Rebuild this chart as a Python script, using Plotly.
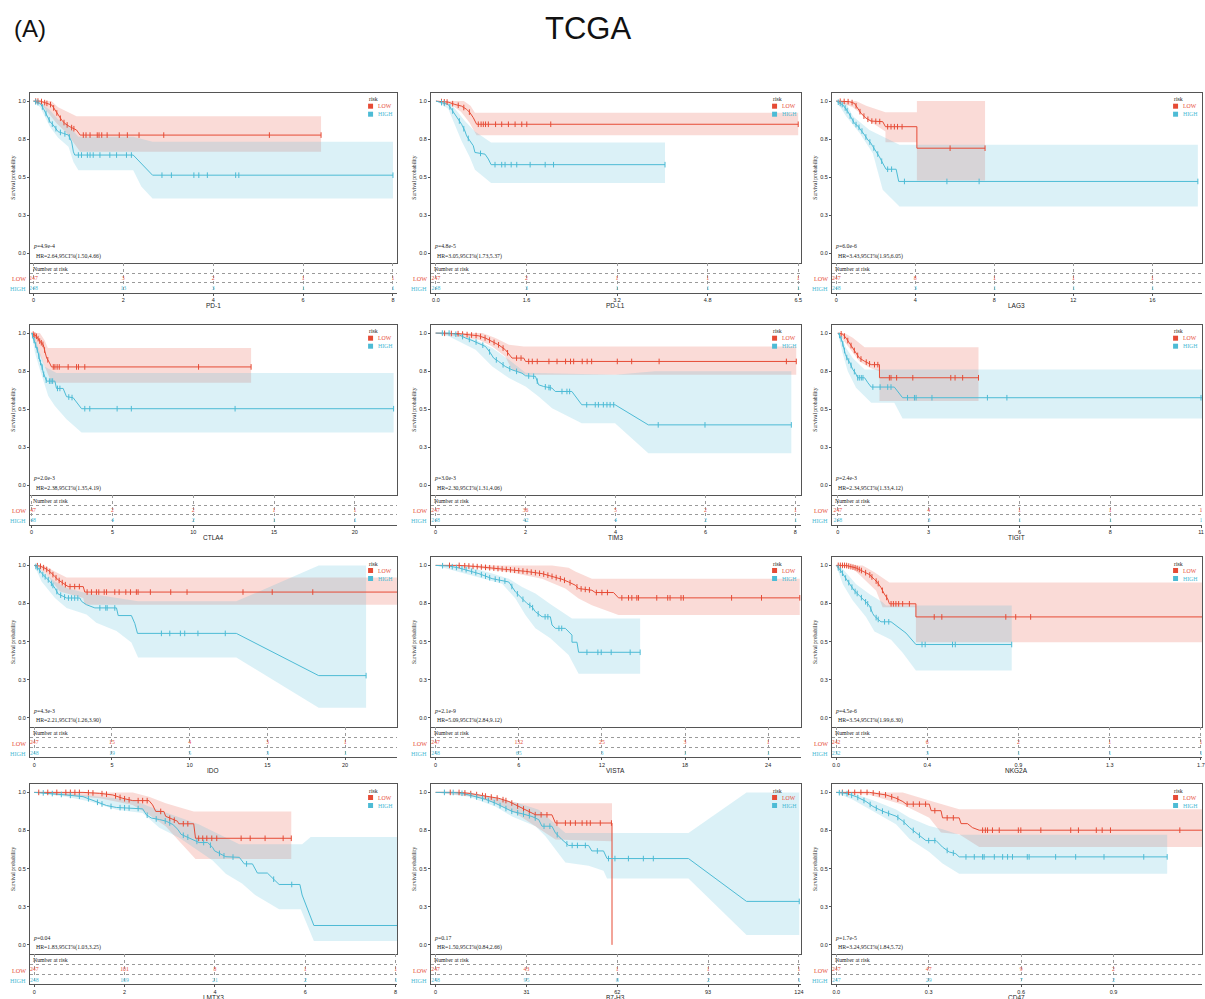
import numpy as np
import plotly.graph_objects as go

W, H = 1205, 999
RED = "#E64B35"
BLUE = "#4DBBD5"
RED_FILL = "rgba(230,75,53,0.2)"
BLUE_FILL = "rgba(77,187,213,0.2)"
SERIF = "Liberation Serif, Times New Roman, serif"
SANS = "Liberation Sans, Arial, sans-serif"
AXIS = "#555555"
GRID = "#9a9a9a"

Y_TICKS = [0, 0.25, 0.5, 0.75, 1.0]
Y_TICKTEXT = ["0.0", "0.3", "0.5", "0.8", "1.0"]

NAMES = ["PD-1", "PD-L1", "LAG3", "CTLA4", "TIM3", "TIGIT",
         "IDO", "VISTA", "NKG2A", "LMTX3", "B7-H3", "CD47"]
P_TEXT = ["4.9e-4", "4.8e-5", "6.0e-6", "2.0e-3", "3.0e-3", "2.4e-3",
          "4.3e-3", "2.1e-9", "4.5e-6", "0.04", "0.17", "1.7e-5"]
HR_TEXT = ["2.64,95CI%(1.50,4.66)", "3.05,95CI%(1.73,5.37)", "3.43,95CI%(1.95,6.05)",
           "2.38,95CI%(1.35,4.19)", "2.30,95CI%(1.31,4.06)", "2.34,95CI%(1.33,4.12)",
           "2.21,95CI%(1.26,3.90)", "5.09,95CI%(2.84,9.12)", "3.54,95CI%(1.99,6.30)",
           "1.83,95CI%(1.03,3.25)", "1.50,95CI%(0.84,2.66)", "3.24,95CI%(1.84,5.72)"]

TICKS = [
    [0, 2, 4, 6, 8],
    [0, 1.625, 3.25, 4.875, 6.5],
    [0, 4, 8, 12, 16],
    [0, 5, 10, 15, 20],
    [0, 2, 4, 6, 8],
    [0, 2.75, 5.5, 8.25, 11],
    [0, 5, 10, 15, 20],
    [0, 6, 12, 18, 24],
    [0, 0.433, 0.866, 1.3, 1.733],
    [0, 2, 4, 6, 8],
    [0, 31, 62, 93, 124],
    [0, 0.3, 0.6, 0.9, 1.2],
]
TICKTEXT = [
    ["0", "2", "4", "6", "8"],
    ["0.0", "1.6", "3.2", "4.8", "6.5"],
    ["0", "4", "8", "12", "16"],
    ["0", "5", "10", "15", "20"],
    ["0", "2", "4", "6", "8"],
    ["0", "3", "6", "8", "11"],
    ["0", "5", "10", "15", "20"],
    ["0", "6", "12", "18", "24"],
    ["0.0", "0.4", "0.9", "1.3", "1.7"],
    ["0", "2", "4", "6", "8"],
    ["0", "31", "62", "93", "124"],
    ["0.0", "0.3", "0.6", "0.9", "1.2"],
]
XRANGES = [
    [-0.078, 8.09], [-0.09, 6.55], [-0.22, 18.51],
    [-0.105, 22.61], [-0.104, 8.125], [-0.18, 11.03],
    [-0.28, 23.34], [-0.34, 26.37], [-0.02, 1.738],
    [-0.095, 8.03], [-1.6, 124.7], [-0.014, 1.187],
]
RISK_LOW = [
    [247, 3, 2, 1, 1], [247, 2, 1, 1, 1], [247, 8, 1, 1, 1],
    [247, 2, 2, 1, 1], [247, 36, 5, 2, 1], [247, 4, 1, 1, 1],
    [247, 15, 4, 3, 1], [247, 132, 25, 3, 1], [242, 6, 2, 1, 1],
    [247, 101, 8, 1, 1], [247, 43, 1, 1, 1], [247, 47, 9, 2, 1],
]
RISK_HIGH = [
    [248, 13, 3, 1, 1], [248, 3, 1, 1, 1], [248, 3, 1, 1, 1],
    [248, 4, 2, 1, 1], [248, 42, 4, 2, 1], [248, 3, 1, 1, 1],
    [248, 19, 5, 3, 1], [248, 65, 3, 1, 1], [232, 3, 1, 1, 1],
    [248, 169, 21, 2, 1], [248, 95, 8, 2, 1], [247, 29, 7, 2, 1],
]

# ---------------- Panel 1: PD-1 ----------------
P1_LOW_CURVE = [(0, 1), (0.15, 1), (0.41, 0.974), (0.48, 0.941), (0.55, 0.908), (0.63, 0.875), (0.70, 0.853),
                (0.81, 0.832), (0.96, 0.81), (1.04, 0.777), (6.40, 0.777)]
P1_LOW_UPPER = [(0, 1), (0.4, 1), (0.55, 0.96), (0.75, 0.93), (0.96, 0.90), (6.40, 0.90)]
P1_LOW_LOWER = [(0, 1), (0.2, 0.97), (0.52, 0.853), (0.74, 0.79), (1.04, 0.667), (6.40, 0.667)]
P1_LOW_CENS = [0.05, 0.1, 0.18, 0.25, 0.3, 0.38, 0.45, 0.52, 0.6, 0.68, 0.75, 0.85, 0.9,
               1.11, 1.17, 1.26, 1.42, 1.46, 1.52, 1.64, 1.91, 2.09, 2.35, 2.90, 5.25, 6.40]
P1_HIGH_CURVE = [(0, 1), (0.15, 0.985), (0.22, 0.952), (0.30, 0.908), (0.37, 0.864), (0.44, 0.843), (0.55, 0.799),
                 (0.67, 0.788), (0.78, 0.777), (0.85, 0.733), (0.89, 0.667), (0.92, 0.646), (2.22, 0.646),
                 (2.65, 0.514), (8.0, 0.514)]
P1_HIGH_UPPER = [(0, 1), (0.15, 0.99), (0.37, 0.94), (0.55, 0.88), (0.78, 0.84), (0.9, 0.80), (1.0, 0.766),
                 (2.22, 0.766), (2.65, 0.733), (8.0, 0.733)]
P1_HIGH_LOWER = [(0, 1), (0.15, 0.96), (0.37, 0.83), (0.55, 0.76), (0.78, 0.70), (0.89, 0.60), (1.0, 0.547),
                 (2.22, 0.547), (2.4, 0.44), (2.65, 0.361), (8.0, 0.361)]
P1_HIGH_CENS = [0.05, 0.1, 0.2, 0.28, 0.35, 0.42, 0.5, 0.6, 0.7, 0.8, 1.0, 1.07, 1.2, 1.26, 1.33, 1.48, 1.7,
                1.85, 2.07, 2.18, 2.86, 3.07, 3.57, 3.68, 3.87, 4.5, 4.57, 8.0]

# ---------------- Panel 2: PD-L1 ----------------
P2_LOW_CURVE = [(0, 1), (0.22, 0.993), (0.34, 0.978), (0.46, 0.967), (0.55, 0.946), (0.61, 0.924), (0.67, 0.891),
                (0.70, 0.870), (0.73, 0.848), (6.5, 0.848)]
P2_LOW_UPPER = [(0, 1), (0.5, 1), (0.62, 0.97), (0.7, 0.924), (6.5, 0.924)]
P2_LOW_LOWER = [(0, 1), (0.28, 0.975), (0.45, 0.93), (0.6, 0.86), (0.73, 0.776), (6.5, 0.776)]
P2_LOW_CENS = [0.1, 0.15, 0.2, 0.3, 0.4, 0.5, 0.6, 0.76, 0.81, 0.85, 0.89, 0.94, 1.07, 1.18, 1.3, 1.42,
               1.54, 1.63, 2.06, 6.5]
P2_HIGH_CURVE = [(0, 1), (0.22, 0.978), (0.28, 0.946), (0.34, 0.913), (0.40, 0.880), (0.46, 0.848), (0.52, 0.804),
                 (0.55, 0.772), (0.61, 0.739), (0.67, 0.707), (0.70, 0.663), (0.88, 0.652), (0.94, 0.620),
                 (0.99, 0.583), (4.11, 0.583)]
P2_HIGH_UPPER = [(0, 1), (0.28, 0.978), (0.52, 0.87), (0.70, 0.80), (0.99, 0.728), (4.11, 0.728)]
P2_HIGH_LOWER = [(0, 1), (0.22, 0.95), (0.28, 0.89), (0.46, 0.739), (0.61, 0.63), (0.70, 0.55), (0.99, 0.463),
                 (4.11, 0.463)]
P2_HIGH_CENS = [0.1, 0.15, 0.25, 0.3, 0.42, 0.5, 0.58, 0.8, 1.06, 1.18, 1.24, 1.35, 1.45, 1.69, 1.96, 2.11, 4.11]

# ---------------- Panel 3: LAG3 ----------------
P3_LOW_CURVE = [(0, 1), (0.67, 0.996), (0.92, 0.985), (1.09, 0.952), (1.26, 0.919), (1.51, 0.887), (1.76, 0.869),
                (2.35, 0.865), (2.49, 0.832), (4.08, 0.832), (4.08, 0.691), (7.53, 0.691)]
P3_LOW_UPPER = [(0, 1), (1.0, 1), (1.51, 0.97), (2.49, 0.926), (4.08, 0.926), (4.08, 1.0), (7.53, 1.0)]
P3_LOW_LOWER = [(0, 1), (0.84, 0.96), (1.68, 0.87), (2.49, 0.80), (2.49, 0.73), (4.08, 0.73), (4.08, 0.479),
                (7.53, 0.479)]
P3_LOW_CENS = [0.2, 0.4, 0.6, 0.8, 1.0, 1.2, 1.4, 1.6, 1.8, 2.0, 2.2, 2.6, 2.77, 2.94, 3.1, 3.33, 5.76, 7.53]
P3_HIGH_CURVE = [(0, 1), (0.34, 0.974), (0.59, 0.930), (0.76, 0.887), (0.92, 0.854), (1.09, 0.837), (1.26, 0.811),
                 (1.43, 0.778), (1.60, 0.745), (1.76, 0.723), (1.85, 0.702), (2.02, 0.669), (2.18, 0.636),
                 (2.35, 0.593), (2.52, 0.553), (3.03, 0.553), (3.16, 0.473), (18.3, 0.473)]
P3_HIGH_UPPER = [(0, 1), (0.5, 0.985), (0.84, 0.90), (1.68, 0.81), (3.2, 0.713), (18.3, 0.713)]
P3_HIGH_LOWER = [(0, 1), (0.5, 0.90), (1.18, 0.79), (1.85, 0.658), (2.35, 0.418), (3.2, 0.309), (18.3, 0.309)]
P3_HIGH_CENS = [0.1, 0.2, 0.3, 0.45, 0.55, 0.7, 0.85, 1.0, 1.15, 1.3, 1.5, 1.7, 1.9, 2.1, 2.3, 2.6, 2.8,
                3.45, 5.6, 7.23, 18.3]

# ---------------- Panel 4: CTLA4 ----------------
P4_LOW_CURVE = [(0, 1), (0.31, 0.978), (0.51, 0.946), (0.72, 0.924), (0.82, 0.880), (0.93, 0.837), (1.09, 0.809),
                (1.23, 0.778), (13.58, 0.778)]
P4_LOW_UPPER = [(0, 1), (0.51, 1), (0.82, 0.95), (1.0, 0.902), (13.58, 0.902)]
P4_LOW_LOWER = [(0, 1), (0.31, 0.91), (0.72, 0.80), (1.23, 0.674), (13.58, 0.674)]
P4_LOW_CENS = [0.1, 0.2, 0.3, 0.4, 0.5, 0.6, 0.7, 0.8, 1.0, 1.34, 1.44, 1.58, 1.71, 2.26, 2.78, 2.9, 3.29,
               10.33, 13.58]
P4_HIGH_CURVE = [(0, 1), (0.10, 0.967), (0.21, 0.935), (0.31, 0.902), (0.41, 0.870), (0.51, 0.815), (0.62, 0.793),
                 (0.72, 0.739), (0.82, 0.707), (0.93, 0.685), (1.44, 0.685), (1.54, 0.637), (1.95, 0.637),
                 (2.16, 0.583), (2.57, 0.576), (3.09, 0.504), (22.4, 0.504)]
P4_HIGH_UPPER = [(0, 1), (0.2, 0.98), (0.41, 0.902), (0.82, 0.78), (1.54, 0.739), (22.4, 0.739)]
P4_HIGH_LOWER = [(0, 1), (0.21, 0.87), (0.51, 0.761), (0.82, 0.652), (1.03, 0.587), (1.44, 0.522), (2.16, 0.435),
                 (3.09, 0.348), (22.4, 0.348)]
P4_HIGH_CENS = [0.05, 0.15, 0.25, 0.35, 0.45, 0.55, 0.65, 0.75, 0.9, 1.1, 1.2, 1.3, 1.6, 1.75, 2.3, 2.5,
                3.29, 3.6, 5.29, 6.17, 12.59, 22.4]

# ---------------- Panel 5: TIM3 ----------------
P5_LOW_CURVE = [(0, 1), (0.52, 0.996), (0.74, 0.989), (0.96, 0.982), (1.11, 0.967), (1.26, 0.945), (1.40, 0.923),
                (1.55, 0.891), (1.63, 0.858), (1.70, 0.836), (1.96, 0.836), (2.0, 0.814), (8.02, 0.814)]
P5_LOW_UPPER = [(0, 1), (1.04, 1), (1.33, 0.967), (1.63, 0.923), (1.96, 0.912), (8.02, 0.912)]
P5_LOW_LOWER = [(0, 1), (0.96, 0.956), (1.26, 0.912), (1.55, 0.847), (1.70, 0.760), (2.0, 0.726), (8.02, 0.726)]
P5_LOW_CENS = [0.2, 0.35, 0.5, 0.6, 0.7, 0.8, 0.9, 1.0, 1.1, 1.2, 1.3, 1.4, 1.5, 1.6, 1.8, 1.9, 2.07, 2.15,
               2.26, 2.52, 2.70, 2.89, 3.0, 3.07, 3.26, 3.37, 3.47, 4.04, 4.36, 4.97, 7.8, 8.02]
P5_HIGH_CURVE = [(0, 1), (0.30, 1), (0.52, 0.989), (0.67, 0.967), (0.81, 0.952), (0.96, 0.934), (1.11, 0.912),
                 (1.22, 0.869), (1.29, 0.836), (1.40, 0.814), (1.55, 0.781), (1.70, 0.759), (1.92, 0.737),
                 (2.0, 0.720), (2.22, 0.716), (2.29, 0.661), (2.40, 0.650), (2.59, 0.639), (2.66, 0.617),
                 (3.03, 0.617), (3.18, 0.562), (3.25, 0.530), (3.99, 0.530), (4.73, 0.398), (7.91, 0.398)]
P5_HIGH_UPPER = [(0, 1), (0.3, 0.996), (0.89, 0.956), (1.26, 0.902), (1.63, 0.825), (2.0, 0.74), (3.99, 0.726),
                 (4.88, 0.75), (7.91, 0.75)]
P5_HIGH_LOWER = [(0, 1), (0.3, 0.978), (0.89, 0.891), (1.26, 0.781), (1.63, 0.705), (2.0, 0.650), (2.29, 0.584),
                 (2.59, 0.507), (3.25, 0.409), (3.99, 0.409), (4.73, 0.212), (7.91, 0.212)]
P5_HIGH_CENS = [0.15, 0.3, 0.45, 0.6, 0.75, 0.9, 1.05, 1.2, 1.35, 1.5, 1.65, 1.8, 2.07, 2.18, 2.26, 2.44, 2.52,
                2.55, 2.81, 2.92, 2.98, 3.36, 3.55, 3.62, 3.73, 3.81, 3.88, 3.96, 4.95, 5.99, 7.91]

# ---------------- Panel 6: TIGIT ----------------
P6_LOW_CURVE = [(0, 1), (0.15, 0.993), (0.25, 0.967), (0.35, 0.935), (0.45, 0.902), (0.55, 0.870), (0.65, 0.837),
                (0.81, 0.815), (1.01, 0.793), (1.26, 0.793), (1.26, 0.707), (4.26, 0.707)]
P6_LOW_UPPER = [(0, 1), (0.2, 1), (0.45, 0.97), (0.7, 0.922), (0.81, 0.907), (4.26, 0.907)]
P6_LOW_LOWER = [(0, 1), (0.15, 0.96), (0.35, 0.902), (0.65, 0.815), (0.96, 0.772), (1.26, 0.75), (1.26, 0.554),
                (4.26, 0.554)]
P6_LOW_CENS = [0.1, 0.2, 0.3, 0.4, 0.5, 0.6, 0.7, 0.86, 0.96, 1.11, 1.21, 1.56, 1.61, 1.78, 2.27, 3.42, 3.55,
               3.78, 4.26]
P6_HIGH_CURVE = [(0, 1), (0.07, 0.978), (0.13, 0.946), (0.17, 0.913), (0.23, 0.859), (0.30, 0.826), (0.37, 0.804),
                 (0.45, 0.761), (0.53, 0.739), (0.60, 0.707), (0.81, 0.707), (0.91, 0.674), (1.01, 0.646),
                 (1.71, 0.646), (1.96, 0.576), (11.1, 0.576)]
P6_HIGH_UPPER = [(0, 1), (0.07, 0.989), (0.25, 0.902), (0.45, 0.837), (0.81, 0.761), (11.1, 0.761)]
P6_HIGH_LOWER = [(0, 1), (0.13, 0.880), (0.30, 0.750), (0.55, 0.641), (1.01, 0.543), (1.71, 0.543), (1.96, 0.439),
                 (11.1, 0.439)]
P6_HIGH_CENS = [0.05, 0.1, 0.15, 0.2, 0.27, 0.33, 0.4, 0.5, 0.6, 0.65, 0.71, 0.76, 1.06, 1.28, 1.51, 1.61,
                2.11, 2.32, 2.37, 2.85, 4.53, 5.12, 11.0]

# ---------------- Panel 7: IDO ----------------
P7_LOW_CURVE = [(0, 1), (0.36, 0.996), (0.69, 0.981), (1.01, 0.959), (1.33, 0.926), (1.54, 0.905), (1.86, 0.883),
                (2.18, 0.861), (3.15, 0.861), (3.25, 0.825), (23.4, 0.825)]
P7_LOW_UPPER = [(0, 1), (0.6, 1), (1.54, 0.948), (2.08, 0.92), (23.4, 0.92)]
P7_LOW_LOWER = [(0, 1), (0.79, 0.94), (1.65, 0.829), (3.15, 0.786), (3.25, 0.742), (23.4, 0.742)]
P7_LOW_CENS = [0.2, 0.4, 0.6, 0.8, 1.0, 1.2, 1.4, 1.6, 1.8, 2.0, 2.3, 2.6, 2.9, 3.40, 3.68, 4.0, 4.15, 4.5,
               4.65, 5.18, 5.46, 5.89, 6.19, 6.57, 6.68, 7.47, 8.78, 9.83, 13.43, 15.31, 17.92, 23.4]
P7_HIGH_CURVE = [(0, 1), (0.26, 0.981), (0.47, 0.948), (0.79, 0.916), (1.01, 0.894), (1.33, 0.851), (1.54, 0.812),
                 (1.86, 0.797), (2.08, 0.786), (2.93, 0.786), (3.04, 0.764), (3.36, 0.742), (3.90, 0.721),
                 (5.29, 0.721), (5.40, 0.671), (6.25, 0.671), (6.47, 0.619), (6.64, 0.554), (13.0, 0.554),
                 (18.3, 0.277), (21.35, 0.277)]
P7_HIGH_UPPER = [(0, 1), (0.47, 0.965), (1.33, 0.894), (2.08, 0.851), (3.36, 0.818), (5.29, 0.786), (6.68, 0.764),
                 (13.0, 0.764), (18.3, 1.0), (21.35, 1.0)]
P7_HIGH_LOWER = [(0, 1), (0.47, 0.894), (1.33, 0.786), (2.08, 0.721), (3.36, 0.678), (3.99, 0.624), (5.29, 0.570),
                 (6.25, 0.494), (6.68, 0.396), (13.0, 0.396), (18.3, 0.067), (21.35, 0.067)]
P7_HIGH_CENS = [0.1, 0.2, 0.35, 0.55, 0.7, 0.9, 1.1, 1.2, 1.45, 1.7, 1.95, 2.2, 2.4, 2.6, 2.8, 4.22, 4.6, 4.69,
                5.18, 8.18, 8.72, 9.4, 9.68, 10.53, 12.29, 21.35]

# ---------------- Panel 8: VISTA ----------------
P8_LOW_CURVE = [(0, 1), (1.68, 1), (2.88, 0.993), (4.08, 0.983), (5.28, 0.972), (6.48, 0.961), (7.68, 0.946),
                (8.4, 0.928), (9.12, 0.909), (9.6, 0.891), (10.08, 0.870), (10.32, 0.848), (11.28, 0.837),
                (11.52, 0.822), (12.84, 0.822), (13.2, 0.787), (26.28, 0.787)]
P8_LOW_UPPER = [(0, 1), (8.4, 1), (9.6, 0.985), (10.08, 0.96), (11.28, 0.913), (26.28, 0.913)]
P8_LOW_LOWER = [(0, 1), (2.4, 0.99), (5.28, 0.957), (7.68, 0.913), (9.36, 0.848), (10.32, 0.783), (11.28, 0.739),
                (13.2, 0.674), (26.28, 0.674)]
P8_LOW_CENS = [1.0, 1.7, 2.1, 2.4, 2.7, 3.0, 3.3, 3.6, 3.9, 4.2, 4.5, 4.8, 5.1, 5.4, 5.7, 6.0, 6.3, 6.6, 6.9,
               7.2, 7.5, 7.8, 8.1, 8.4, 8.7, 9.0, 9.3, 9.7, 10.2, 10.5, 10.8, 11.1, 11.6, 12.0, 12.4, 13.44,
               13.92, 14.16, 14.52, 14.64, 15.96, 16.75, 16.92, 17.71, 17.88, 21.36, 23.52, 26.28]
P8_HIGH_CURVE = [(0, 1), (0.96, 0.996), (1.68, 0.983), (2.40, 0.967), (3.12, 0.946), (4.08, 0.913), (4.8, 0.902),
                 (5.28, 0.891), (5.52, 0.859), (5.76, 0.826), (6.24, 0.783), (6.6, 0.750), (6.96, 0.728),
                 (7.2, 0.696), (7.68, 0.663), (8.28, 0.663), (8.4, 0.609), (8.64, 0.587), (9.36, 0.587),
                 (9.84, 0.543), (9.84, 0.496), (10.2, 0.496), (10.32, 0.430), (14.76, 0.430)]
P8_HIGH_UPPER = [(0, 1), (2.40, 0.989), (4.08, 0.946), (5.28, 0.913), (6.24, 0.859), (7.2, 0.815), (8.4, 0.739),
                 (9.84, 0.652), (14.76, 0.652)]
P8_HIGH_LOWER = [(0, 1), (1.68, 0.957), (3.12, 0.924), (4.8, 0.880), (5.76, 0.783), (6.48, 0.674), (7.2, 0.587),
                 (8.28, 0.522), (9.6, 0.413), (10.32, 0.289), (14.76, 0.289)]
P8_HIGH_CENS = [0.5, 1.2, 1.5, 1.9, 2.2, 2.6, 2.9, 3.3, 3.6, 3.9, 4.3, 4.6, 5.0, 5.5, 5.9, 6.3, 6.8, 7.0, 7.4,
                7.9, 8.1, 8.9, 9.1, 10.92, 11.71, 11.95, 12.67, 14.04, 14.76]

# ---------------- Panel 9: NKG2A ----------------
P9_LOW_CURVE = [(0, 1), (0.047, 1), (0.095, 0.983), (0.126, 0.962), (0.158, 0.940), (0.182, 0.908),
                (0.197, 0.887), (0.213, 0.855), (0.229, 0.812), (0.245, 0.780), (0.253, 0.748), (0.379, 0.748),
                (0.379, 0.662), (1.76, 0.662)]
P9_LOW_UPPER = [(0, 1), (0.126, 1), (0.182, 0.955), (0.253, 0.887), (1.76, 0.887)]
P9_LOW_LOWER = [(0, 1), (0.079, 0.98), (0.126, 0.919), (0.19, 0.833), (0.221, 0.726), (0.379, 0.726),
                (0.379, 0.496), (1.76, 0.496)]
P9_LOW_CENS = [0.01, 0.02, 0.03, 0.04, 0.05, 0.06, 0.07, 0.08, 0.09, 0.1, 0.11, 0.12, 0.14, 0.16, 0.17, 0.19,
               0.2, 0.22, 0.24, 0.261, 0.272, 0.284, 0.297, 0.316, 0.348, 0.466, 0.502, 0.806, 0.853, 0.924]
P9_HIGH_CURVE = [(0, 1), (0.024, 0.962), (0.039, 0.929), (0.055, 0.897), (0.071, 0.865), (0.087, 0.833),
                 (0.111, 0.801), (0.134, 0.769), (0.158, 0.737), (0.174, 0.684), (0.182, 0.667), (0.213, 0.630),
                 (0.261, 0.630), (0.332, 0.556), (0.379, 0.481), (0.834, 0.481)]
P9_HIGH_UPPER = [(0, 1), (0.032, 0.976), (0.095, 0.876), (0.158, 0.812), (0.221, 0.759), (0.237, 0.737),
                 (0.834, 0.737)]
P9_HIGH_LOWER = [(0, 1), (0.032, 0.876), (0.079, 0.769), (0.142, 0.662), (0.182, 0.566), (0.261, 0.513),
                 (0.316, 0.427), (0.379, 0.310), (0.834, 0.310)]
P9_HIGH_CENS = [0.01, 0.02, 0.03, 0.045, 0.06, 0.075, 0.09, 0.1, 0.12, 0.14, 0.15, 0.165, 0.19, 0.2, 0.23, 0.25,
                0.408, 0.423, 0.553, 0.566, 0.834]

# ---------------- Panel 10: LMTX3 ----------------
P10_LOW_CURVE = [(0, 1), (1.08, 1), (1.44, 0.994), (1.74, 0.983), (1.96, 0.961), (2.18, 0.946), (2.54, 0.946),
                 (2.62, 0.918), (2.69, 0.875), (2.87, 0.875), (2.91, 0.843), (3.06, 0.822), (3.17, 0.811),
                 (3.20, 0.794), (3.53, 0.794), (3.57, 0.699), (5.69, 0.699)]
P10_LOW_UPPER = [(0, 1), (2.18, 1), (2.54, 0.972), (2.91, 0.929), (3.53, 0.875), (5.69, 0.875)]
P10_LOW_LOWER = [(0, 1), (1.45, 0.961), (2.18, 0.918), (2.54, 0.854), (2.91, 0.778), (3.20, 0.682),
                 (3.57, 0.563), (5.69, 0.563)]
P10_LOW_CENS = [0.1, 0.3, 0.5, 0.7, 0.8, 0.9, 1.0, 1.2, 1.3, 1.5, 1.6, 1.8, 1.9, 2.0, 2.1, 2.3, 2.4, 2.5, 2.8,
                3.0, 3.1, 3.3, 3.4, 3.64, 3.73, 3.82, 3.93, 4.04, 4.58, 4.78, 5.11, 5.51, 5.69]
P10_HIGH_CURVE = [(0, 1), (0.35, 0.994), (0.71, 0.983), (1.08, 0.972), (1.26, 0.951), (1.45, 0.929),
                  (1.60, 0.914), (1.82, 0.901), (2.18, 0.897), (2.40, 0.892), (2.48, 0.854), (2.59, 0.832),
                  (2.77, 0.822), (2.92, 0.811), (3.07, 0.789), (3.18, 0.757), (3.25, 0.725), (3.51, 0.692),
                  (3.65, 0.671), (3.84, 0.671), (3.95, 0.639), (3.99, 0.617), (4.24, 0.578), (4.54, 0.574),
                  (4.65, 0.531), (4.83, 0.531), (4.94, 0.471), (5.16, 0.471), (5.42, 0.396), (5.88, 0.396),
                  (5.93, 0.327), (6.19, 0.127), (8.04, 0.127)]
P10_HIGH_UPPER = [(0, 1), (0.71, 0.994), (1.45, 0.972), (2.18, 0.951), (2.54, 0.908), (3.06, 0.854),
                  (3.65, 0.789), (4.09, 0.725), (4.54, 0.66), (5.93, 0.66), (6.12, 0.707), (8.04, 0.707)]
P10_HIGH_LOWER = [(0, 1), (0.71, 0.972), (1.23, 0.940), (1.82, 0.886), (2.40, 0.865), (2.77, 0.768),
                  (3.21, 0.703), (3.51, 0.639), (3.95, 0.553), (4.24, 0.467), (4.60, 0.402), (4.89, 0.327),
                  (5.42, 0.234), (5.90, 0.234), (6.19, 0.026), (8.04, 0.026)]
P10_HIGH_CENS = [0.2, 0.4, 0.6, 0.8, 1.0, 1.2, 1.4, 1.5, 1.7, 1.9, 2.0, 2.1, 2.3, 2.5, 2.7, 2.9, 3.0, 3.3, 3.4,
                 3.6, 3.75, 3.9, 4.1, 4.2, 4.4, 4.7, 5.3, 5.7, 8.04]

# ---------------- Panel 11: B7-H3 ----------------
P11_LOW_CURVE = [(0, 1), (7.9, 1), (11.4, 0.994), (14.8, 0.983), (18.2, 0.972), (21.6, 0.961), (25.0, 0.940),
                 (27.2, 0.918), (29.5, 0.896), (31.8, 0.875), (34.1, 0.853), (39.7, 0.853), (40.9, 0.799),
                 (60.2, 0.799), (60.2, 0.0)]
P11_LOW_UPPER = [(0, 1), (11.4, 1), (18.2, 0.972), (23.8, 0.950), (28.4, 0.929), (60.2, 0.929)]
P11_LOW_LOWER = [(0, 1), (13.6, 0.972), (20.4, 0.929), (27.2, 0.864), (30.6, 0.821), (34.1, 0.778),
                 (40.9, 0.691), (60.2, 0.680)]
P11_LOW_CENS = [5, 8, 10, 12, 14, 16, 17, 19, 21, 23, 24, 26, 28, 30, 32, 34, 36, 38, 41.4, 44.3, 46.0, 47.7,
                50.0, 51.6, 52.8, 56.2, 60.0]
P11_HIGH_CURVE = [(0, 1), (5.7, 1), (9.1, 0.994), (11.4, 0.983), (13.6, 0.972), (17.0, 0.955), (20.4, 0.929),
                  (23.8, 0.896), (26.1, 0.875), (29.5, 0.860), (32.9, 0.842), (35.2, 0.821), (36.3, 0.778),
                  (39.7, 0.778), (40.9, 0.734), (43.1, 0.691), (44.3, 0.670), (45.4, 0.652), (52.2, 0.652),
                  (53.3, 0.616), (57.3, 0.616), (58.5, 0.566), (86.3, 0.566), (106.1, 0.285), (124.1, 0.285)]
P11_HIGH_UPPER = [(0, 1), (11.4, 0.994), (20.4, 0.961), (28.4, 0.929), (35.2, 0.886), (39.7, 0.810),
                  (44.3, 0.734), (86.3, 0.734), (106.1, 1.0), (124.1, 1.0)]
P11_HIGH_LOWER = [(0, 1), (11.4, 0.972), (20.4, 0.907), (26.1, 0.842), (34.1, 0.778), (37.5, 0.713),
                  (40.9, 0.626), (44.3, 0.540), (52.2, 0.518), (57.3, 0.486), (58.5, 0.436), (86.3, 0.436),
                  (106.1, 0.065), (124.1, 0.065)]
P11_HIGH_CENS = [3, 6, 9, 12, 14, 16, 18, 20, 22, 24, 26, 28, 30, 32, 34, 37, 39, 41.5, 44.8, 46.6, 48.4,
                 51.1, 55.2, 59.0, 61.2, 65.8, 70.9, 74.3, 124.1]

# ---------------- Panel 12: CD47 ----------------
P12_LOW_CURVE = [(0, 1), (0.108, 1), (0.162, 0.983), (0.194, 0.962), (0.216, 0.940), (0.227, 0.923),
                 (0.302, 0.923), (0.308, 0.880), (0.340, 0.880), (0.345, 0.833), (0.399, 0.833), (0.405, 0.795),
                 (0.426, 0.795), (0.442, 0.769), (0.464, 0.752), (1.2, 0.752)]
P12_LOW_UPPER = [(0, 1), (0.216, 1), (0.313, 0.94), (0.399, 0.889), (1.2, 0.889)]
P12_LOW_LOWER = [(0, 1), (0.108, 0.985), (0.216, 0.919), (0.302, 0.833), (0.340, 0.737), (0.399, 0.726),
                 (0.464, 0.641), (1.2, 0.641)]
P12_LOW_CENS = [0.02, 0.04, 0.06, 0.08, 0.1, 0.12, 0.14, 0.16, 0.18, 0.2, 0.23, 0.25, 0.27, 0.29, 0.32, 0.36,
                0.38, 0.475, 0.484, 0.491, 0.507, 0.529, 0.591, 0.599, 0.664, 0.761, 0.786, 0.844, 0.863,
                0.890, 1.115]
P12_HIGH_CURVE = [(0, 1), (0.032, 0.994), (0.065, 0.972), (0.097, 0.940), (0.119, 0.908), (0.151, 0.876),
                  (0.194, 0.844), (0.216, 0.812), (0.238, 0.769), (0.259, 0.737), (0.291, 0.684), (0.324, 0.684),
                  (0.345, 0.641), (0.367, 0.609), (0.388, 0.598), (0.399, 0.577), (1.074, 0.577)]
P12_HIGH_UPPER = [(0, 1), (0.054, 0.994), (0.130, 0.940), (0.194, 0.887), (0.238, 0.833), (0.302, 0.780),
                  (0.345, 0.759), (0.399, 0.722), (1.074, 0.722)]
P12_HIGH_LOWER = [(0, 1), (0.054, 0.951), (0.130, 0.865), (0.194, 0.791), (0.238, 0.694), (0.302, 0.609),
                  (0.345, 0.534), (0.399, 0.466), (1.074, 0.466)]
P12_HIGH_CENS = [0.01, 0.02, 0.035, 0.05, 0.07, 0.09, 0.11, 0.13, 0.15, 0.17, 0.2, 0.22, 0.25, 0.27, 0.3, 0.32,
                 0.36, 0.38, 0.421, 0.448, 0.475, 0.48, 0.513, 0.54, 0.556, 0.572, 0.620, 0.626, 0.712, 0.777,
                 0.869, 0.998, 1.074]

CURVES = [
    (P1_LOW_CURVE, P1_LOW_UPPER, P1_LOW_LOWER, P1_LOW_CENS, P1_HIGH_CURVE, P1_HIGH_UPPER, P1_HIGH_LOWER, P1_HIGH_CENS),
    (P2_LOW_CURVE, P2_LOW_UPPER, P2_LOW_LOWER, P2_LOW_CENS, P2_HIGH_CURVE, P2_HIGH_UPPER, P2_HIGH_LOWER, P2_HIGH_CENS),
    (P3_LOW_CURVE, P3_LOW_UPPER, P3_LOW_LOWER, P3_LOW_CENS, P3_HIGH_CURVE, P3_HIGH_UPPER, P3_HIGH_LOWER, P3_HIGH_CENS),
    (P4_LOW_CURVE, P4_LOW_UPPER, P4_LOW_LOWER, P4_LOW_CENS, P4_HIGH_CURVE, P4_HIGH_UPPER, P4_HIGH_LOWER, P4_HIGH_CENS),
    (P5_LOW_CURVE, P5_LOW_UPPER, P5_LOW_LOWER, P5_LOW_CENS, P5_HIGH_CURVE, P5_HIGH_UPPER, P5_HIGH_LOWER, P5_HIGH_CENS),
    (P6_LOW_CURVE, P6_LOW_UPPER, P6_LOW_LOWER, P6_LOW_CENS, P6_HIGH_CURVE, P6_HIGH_UPPER, P6_HIGH_LOWER, P6_HIGH_CENS),
    (P7_LOW_CURVE, P7_LOW_UPPER, P7_LOW_LOWER, P7_LOW_CENS, P7_HIGH_CURVE, P7_HIGH_UPPER, P7_HIGH_LOWER, P7_HIGH_CENS),
    (P8_LOW_CURVE, P8_LOW_UPPER, P8_LOW_LOWER, P8_LOW_CENS, P8_HIGH_CURVE, P8_HIGH_UPPER, P8_HIGH_LOWER, P8_HIGH_CENS),
    (P9_LOW_CURVE, P9_LOW_UPPER, P9_LOW_LOWER, P9_LOW_CENS, P9_HIGH_CURVE, P9_HIGH_UPPER, P9_HIGH_LOWER, P9_HIGH_CENS),
    (P10_LOW_CURVE, P10_LOW_UPPER, P10_LOW_LOWER, P10_LOW_CENS, P10_HIGH_CURVE, P10_HIGH_UPPER, P10_HIGH_LOWER, P10_HIGH_CENS),
    (P11_LOW_CURVE, P11_LOW_UPPER, P11_LOW_LOWER, P11_LOW_CENS, P11_HIGH_CURVE, P11_HIGH_UPPER, P11_HIGH_LOWER, P11_HIGH_CENS),
    (P12_LOW_CURVE, P12_LOW_UPPER, P12_LOW_LOWER, P12_LOW_CENS, P12_HIGH_CURVE, P12_HIGH_UPPER, P12_HIGH_LOWER, P12_HIGH_CENS),
]

# ---------------- layout geometry (pixels) ----------------
COLS = [(30, 398), (432, 803), (834, 1205)]
ROW_TOP = [92.7, 324.7, 557, 784]
MAIN_H = 170
RISK_H = 30


def fx(x):
    return x / W


def fy(y):
    return 1 - y / H


fig = go.Figure()
layout = {}
annotations = []
shapes = []


def axname(prefix, k):
    return prefix if k == 1 else f"{prefix}{k}"


for i in range(12):
    r, c = divmod(i, 3)
    L, R = COLS[c]
    top = ROW_TOP[r]
    mb = top + MAIN_H
    rb = mb + RISK_H
    km, kr = 2 * i + 1, 2 * i + 2
    xm, ym = axname("x", km), axname("y", km)
    xr, yr = axname("x", kr), axname("y", kr)
    xdom = [fx(L), fx(R)]
    xrange_ = XRANGES[i]

    layout[axname("xaxis", km)] = dict(domain=xdom, anchor=ym, range=xrange_, showline=True, mirror=True,
                                        linecolor=AXIS, linewidth=1, ticks="", showticklabels=False,
                                        showgrid=False, zeroline=False)
    layout[axname("yaxis", km)] = dict(domain=[fy(mb), fy(top)], anchor=xm, range=[-0.06, 1.055],
                                        tickvals=Y_TICKS, ticktext=Y_TICKTEXT, ticks="outside", ticklen=2,
                                        tickwidth=1, tickcolor=AXIS,
                                        tickfont=dict(family=SANS, size=5.5, color="#222"),
                                        showline=True, mirror=True, linecolor=AXIS, linewidth=1,
                                        showgrid=False, zeroline=False)
    layout[axname("xaxis", kr)] = dict(domain=xdom, anchor=yr, range=xrange_, tickvals=TICKS[i],
                                        ticktext=TICKTEXT[i], ticks="outside", ticklen=2, tickwidth=1,
                                        tickcolor=AXIS, tickfont=dict(family=SANS, size=5.5, color="#222"),
                                        showline=True, linecolor=AXIS, linewidth=1, showgrid=True,
                                        gridcolor=GRID, griddash="dot", gridwidth=1, zeroline=False)
    layout[axname("yaxis", kr)] = dict(domain=[fy(rb), fy(mb)], anchor=xr, range=[0, 1],
                                        tickvals=[0.326, 0.65], showticklabels=False, ticks="",
                                        showgrid=True, gridcolor=GRID, griddash="dot", gridwidth=1,
                                        showline=True, linecolor=AXIS, linewidth=1, zeroline=False)

    low_c, low_u, low_l, low_cens, high_c, high_u, high_l, high_cens = CURVES[i]
    groups = [(low_c, low_u, low_l, low_cens, RED, RED_FILL),
              (high_c, high_u, high_l, high_cens, BLUE, BLUE_FILL)]
    for cur, up, lo, cens, col, fill in groups:
        xs = [t for t, _ in up] + [t for t, _ in lo[::-1]]
        ys = [v for _, v in up] + [v for _, v in lo[::-1]]
        fig.add_trace(go.Scatter(x=xs, y=ys, xaxis=xm, yaxis=ym, mode="lines", fill="toself",
                                 fillcolor=fill, line=dict(width=0), hoverinfo="skip", showlegend=False))
    for cur, up, lo, cens, col, fill in groups:
        fig.add_trace(go.Scatter(x=[t for t, _ in cur], y=[v for _, v in cur], xaxis=xm, yaxis=ym,
                                 mode="lines", line=dict(color=col, width=1), hoverinfo="skip",
                                 showlegend=False))
    for cur, up, lo, cens, col, fill in groups:
        ct = np.array([t for t, _ in cur], dtype=float)
        cs = np.array([v for _, v in cur], dtype=float)
        cy = np.interp(np.array(cens, dtype=float), ct, cs)
        fig.add_trace(go.Scatter(x=cens, y=cy, xaxis=xm, yaxis=ym, mode="markers",
                                 marker=dict(symbol="line-ns", size=4, line=dict(color=col, width=1)),
                                 hoverinfo="skip", showlegend=False))
    fig.add_trace(go.Scatter(x=TICKS[i], y=[0.465] * 5, xaxis=xr, yaxis=yr, mode="text",
                             text=[str(v) for v in RISK_LOW[i]],
                             textfont=dict(family=SERIF, size=5.8, color=RED), hoverinfo="skip",
                             showlegend=False))
    fig.add_trace(go.Scatter(x=TICKS[i], y=[0.128] * 5, xaxis=xr, yaxis=yr, mode="text",
                             text=[str(v) for v in RISK_HIGH[i]],
                             textfont=dict(family=SERIF, size=5.8, color=BLUE), hoverinfo="skip",
                             showlegend=False))

    sfont = dict(family=SERIF, size=5.8, color="#222")
    annotations.append(dict(xref=f"{xm} domain", yref=ym, x=0.002, y=0.048, xanchor="left", yanchor="middle",
                            text=f"<i>p</i>={P_TEXT[i]}", showarrow=False, font=sfont))
    annotations.append(dict(xref=f"{xm} domain", yref=ym, x=0.012, y=-0.018, xanchor="left", yanchor="middle",
                            text=f"HR={HR_TEXT[i]}", showarrow=False, font=sfont))
    annotations.append(dict(xref="paper", yref="paper", x=fx(L - 17), y=fy(top + MAIN_H / 2),
                            xanchor="center", yanchor="middle", textangle=-90, text="Survival probability",
                            showarrow=False, font=dict(family=SERIF, size=5.5, color="#222")))
    annotations.append(dict(xref="paper", yref="paper", x=fx((L + R) / 2), y=fy(rb + 13),
                            xanchor="center", yanchor="middle", text=NAMES[i], showarrow=False,
                            font=dict(family=SANS, size=6.5, color="#222")))
    annotations.append(dict(xref="paper", yref="paper", x=fx(L + 1), y=fy(mb + 0.21 * RISK_H),
                            xanchor="left", yanchor="middle", text="Number at risk", showarrow=False,
                            font=sfont))
    annotations.append(dict(xref="paper", yref="paper", x=fx(L - 2), y=fy(mb + 0.535 * RISK_H),
                            xanchor="right", yanchor="middle", text="LOW", showarrow=False,
                            font=dict(family=SERIF, size=6.2, color=RED)))
    annotations.append(dict(xref="paper", yref="paper", x=fx(L - 2), y=fy(mb + 0.872 * RISK_H),
                            xanchor="right", yanchor="middle", text="HIGH", showarrow=False,
                            font=dict(family=SERIF, size=6.2, color=BLUE)))
    annotations.append(dict(xref="paper", yref="paper", x=fx(R - 30), y=fy(top + 6.5),
                            xanchor="left", yanchor="middle", text="risk", showarrow=False, font=sfont))
    for lab, col, dy in (("LOW", RED, 13.5), ("HIGH", BLUE, 21.5)):
        annotations.append(dict(xref="paper", yref="paper", x=fx(R - 21), y=fy(top + dy),
                                xanchor="left", yanchor="middle", text=lab, showarrow=False,
                                font=dict(family=SERIF, size=5.8, color=col)))
        shapes.append(dict(type="rect", xref="paper", yref="paper", x0=fx(R - 29), x1=fx(R - 24),
                           y0=fy(top + dy + 2.5), y1=fy(top + dy - 2.5), fillcolor=col, line=dict(width=0)))

annotations.append(dict(xref="paper", yref="paper", x=fx(12), y=fy(28), xanchor="left", yanchor="middle",
                        text="(A)", showarrow=False, font=dict(family=SANS, size=24, color="#111")))
annotations.append(dict(xref="paper", yref="paper", x=fx(589), y=fy(28), xanchor="center", yanchor="middle",
                        text="TCGA", showarrow=False, font=dict(family=SANS, size=31, color="#111")))

fig.update_layout(**layout)
fig.update_layout(width=W, height=H, margin=dict(l=0, r=0, t=0, b=0), paper_bgcolor="white",
                  plot_bgcolor="white", showlegend=False, annotations=annotations, shapes=shapes)
fig.write_html("out.html", config={"displayModeBar": False})

# remove the default 8px page margin so the figure sits at the window's top-left corner
with open("out.html", "r", encoding="utf-8") as fh:
    html = fh.read()
html = html.replace("<head>", "<head><style>html,body{margin:0;padding:0;overflow:hidden;}</style>", 1)
with open("out.html", "w", encoding="utf-8") as fh:
    fh.write(html)
